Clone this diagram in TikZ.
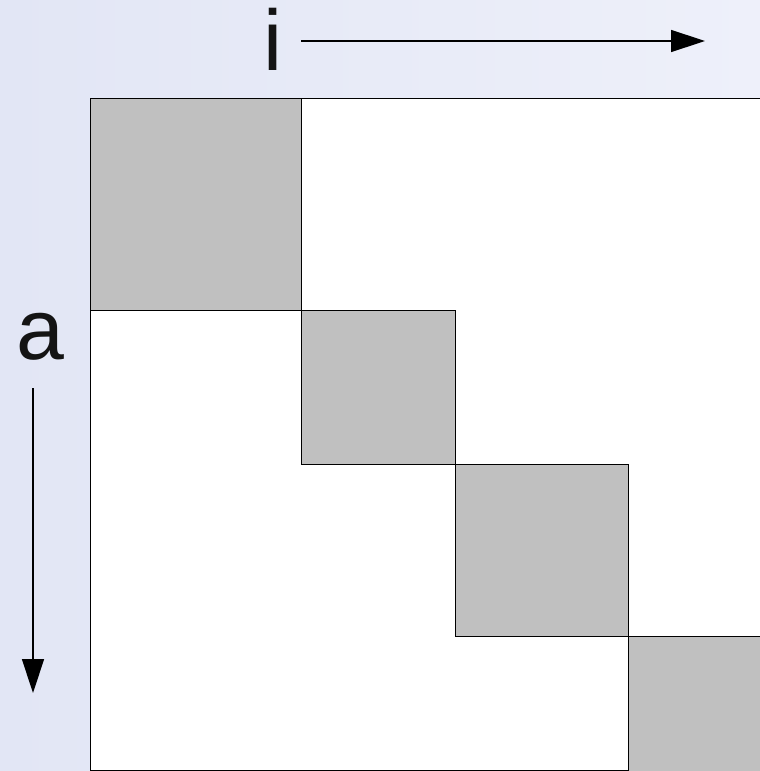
\documentclass[tikz,border=0pt]{standalone}
\usepackage{fontspec}
\setmainfont{Liberation Sans}
\usetikzlibrary{arrows.meta}
\definecolor{bgL}{HTML}{E2E6F5}
\definecolor{bgR}{HTML}{EEF0FA}
\definecolor{blk}{HTML}{C0C0C0}
\begin{document}
\begin{tikzpicture}[x=1pt,y=-1pt,
  blockcell/.style={fill=blk,draw=black,line width=1pt},
  axisarrow/.style={draw=black,line width=1.4pt,-{Triangle[length=34pt,width=22pt]}},
  axislabel/.style={font=\fontsize{86}{86}\selectfont,inner sep=0pt,anchor=base,text=black!92}]
\useasboundingbox (0,0) rectangle (760,771);
\clip (0,0) rectangle (760,771);
\shade[left color=bgL,right color=bgR] (0,0) rectangle (760,771);
% matrix area
\filldraw[fill=white,draw=black,line width=1pt] (90,98) rectangle (790,770);
% diagonal blocks
\filldraw[blockcell] (90,98) rectangle (301,310);
\filldraw[blockcell] (301,310) rectangle (455,464);
\filldraw[blockcell] (455,464) rectangle (628,636);
\filldraw[blockcell] (628,636) rectangle (790,790);
% labels
\node[axislabel] (ilabel) at (273,70) {i};
\node[axislabel] (alabel) at (40,359) {a};
% arrows
\coordinate (iend) at (705,41);
\coordinate (aend) at (33,693);
\draw[axisarrow] (301,41) -- (iend);
\draw[axisarrow] (33,388) -- (aend);
\end{tikzpicture}
\end{document}
